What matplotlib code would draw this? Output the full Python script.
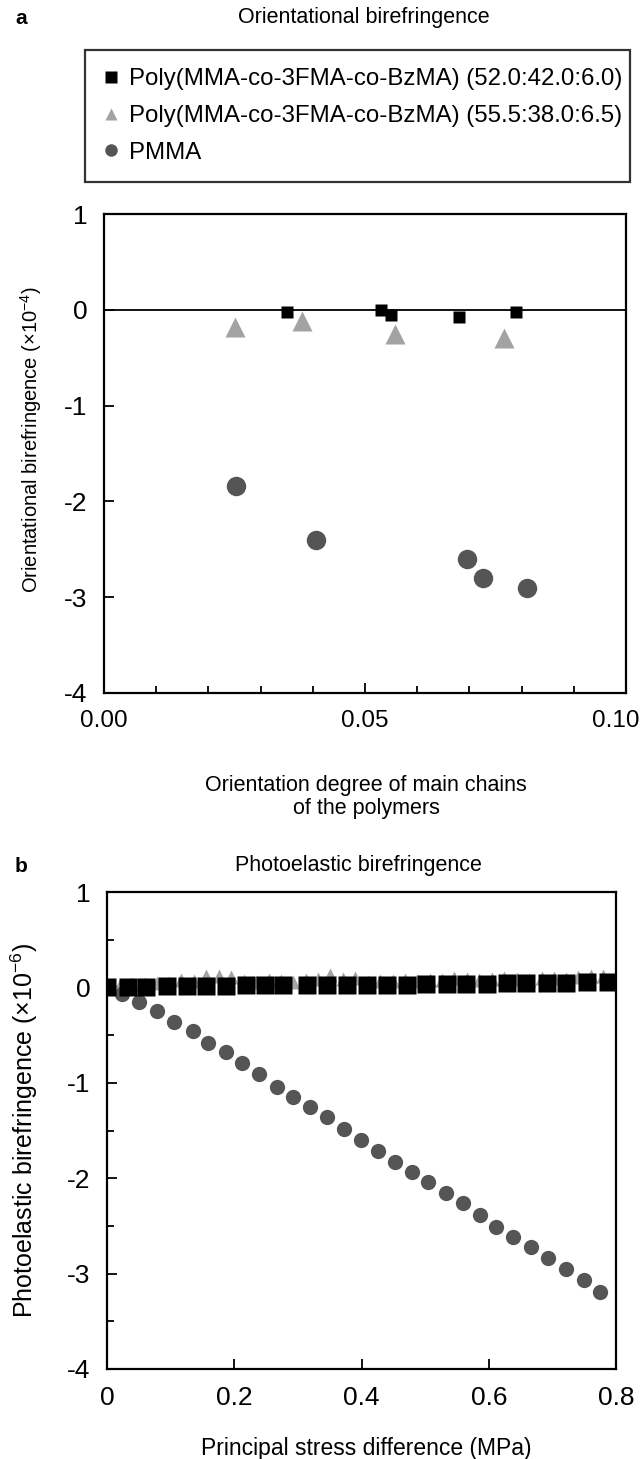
import matplotlib
matplotlib.use("Agg")
import matplotlib.pyplot as plt
from matplotlib.lines import Line2D
from matplotlib.ticker import MultipleLocator
from matplotlib.transforms import ScaledTranslation

plt.rcParams['font.family'] = ['Liberation Sans', 'DejaVu Sans']
plt.rcParams['mathtext.fontset'] = 'custom'
plt.rcParams['mathtext.rm'] = 'Liberation Sans'
plt.rcParams['axes.unicode_minus'] = False

# ---- panel a: orientational birefringence ----
a_sq_x = [0.035, 0.053, 0.055, 0.068, 0.079]
a_sq_y = [-0.02, 0.00, -0.05, -0.07, -0.02]
a_tri_x = [0.025, 0.038, 0.0557, 0.0767]
a_tri_y = [-0.18, -0.12, -0.25, -0.29]
a_pmma_x = [0.0252, 0.0406, 0.0696, 0.0726, 0.0811]
a_pmma_y = [-1.84, -2.40, -2.60, -2.80, -2.90]

# ---- panel b: photoelastic birefringence ----
b_sq_x = [0.000, 0.033, 0.062, 0.095, 0.125, 0.156, 0.187, 0.218, 0.248, 0.277,
          0.314, 0.345, 0.377, 0.408, 0.440, 0.471, 0.502, 0.534, 0.565, 0.597,
          0.628, 0.659, 0.691, 0.722, 0.754, 0.787]
b_sq_y = [0.00, 0.00, 0.00, 0.01, 0.01, 0.01, 0.01, 0.02, 0.02, 0.02,
          0.02, 0.03, 0.03, 0.03, 0.03, 0.03, 0.04, 0.04, 0.04, 0.04,
          0.05, 0.05, 0.05, 0.05, 0.06, 0.06]
b_tri_x = [0.000, 0.020, 0.039, 0.059, 0.078, 0.098, 0.117, 0.137, 0.156, 0.176,
           0.195, 0.215, 0.234, 0.254, 0.273, 0.293, 0.312, 0.332, 0.351, 0.371,
           0.390, 0.410, 0.429, 0.449, 0.468, 0.488, 0.507, 0.527, 0.546, 0.566,
           0.585, 0.605, 0.624, 0.644, 0.663, 0.683, 0.702, 0.722, 0.741, 0.761, 0.780]
b_tri_y = [0.02, 0.03, 0.04, 0.04, 0.05, 0.05, 0.08, 0.07, 0.12, 0.12,
           0.11, 0.07, 0.06, 0.08, 0.07, 0.06, 0.08, 0.09, 0.13, 0.09,
           0.10, 0.06, 0.07, 0.07, 0.08, 0.07, 0.08, 0.08, 0.10, 0.09,
           0.08, 0.09, 0.10, 0.09, 0.08, 0.10, 0.10, 0.09, 0.11, 0.12, 0.12]
b_pmma_x = [0.000, 0.024, 0.051, 0.078, 0.106, 0.135, 0.158, 0.187, 0.212, 0.239,
            0.267, 0.292, 0.319, 0.345, 0.372, 0.399, 0.426, 0.452, 0.479, 0.505,
            0.533, 0.559, 0.586, 0.612, 0.638, 0.666, 0.693, 0.721, 0.750, 0.775]
b_pmma_y = [0.00, -0.07, -0.15, -0.25, -0.36, -0.46, -0.58, -0.68, -0.79, -0.91,
            -1.04, -1.15, -1.25, -1.36, -1.48, -1.60, -1.71, -1.83, -1.94, -2.04,
            -2.16, -2.26, -2.39, -2.51, -2.62, -2.72, -2.84, -2.95, -3.07, -3.19]

labels = ['Poly(MMA-co-3FMA-co-BzMA) (52.0:42.0:6.0)',
          'Poly(MMA-co-3FMA-co-BzMA) (55.5:38.0:6.5)',
          'PMMA']

BLACK = '#000000'
LIGHT = '#a3a3a3'
DARK = '#555555'

W, H = 641, 1459
fig = plt.figure(figsize=(W / 100, H / 100), dpi=100)


def box(l, t, r, b):
    return [l / W, 1 - b / H, (r - l) / W, (b - t) / H]


def style_axes(ax):
    for s in ax.spines.values():
        s.set_linewidth(1.6)
    ax.tick_params(which='both', direction='in', width=1.3, top=False, right=False)
    ax.tick_params(which='major', length=7)
    ax.tick_params(which='minor', length=5)


# panel a
ax1 = fig.add_axes(box(104, 214, 626, 693))
ax1.axhline(0, color='black', lw=1.3, zorder=1)
ax1.plot(a_tri_x, a_tri_y, '^', ms=15, color=LIGHT, mec='none', zorder=2)
ax1.plot(a_pmma_x, a_pmma_y, 'o', ms=14, color=DARK, mec='none', zorder=2)
ax1.plot(a_sq_x, a_sq_y, 's', ms=8.5, color=BLACK, mec='none', zorder=3)
ax1.set_xlim(0, 0.10)
ax1.set_ylim(-4, 1)
ax1.set_xticks([0.0, 0.05, 0.10])
ax1.set_xticklabels(['0.00', '0.05', '0.10'])
ax1.xaxis.set_minor_locator(MultipleLocator(0.01))
ax1.set_yticks([1, 0, -1, -2, -3, -4])
style_axes(ax1)
ax1.tick_params(axis='x', labelsize=17.5, pad=12)
ax1.tick_params(axis='y', labelsize=19, pad=12)
last = ax1.get_xticklabels()[-1]
last.set_transform(last.get_transform() + ScaledTranslation(-10 / 100, 0, fig.dpi_scale_trans))

# panel b
ax2 = fig.add_axes(box(107, 892, 616, 1369))
ax2.plot(b_tri_x, b_tri_y, '^', ms=10, color=LIGHT, mec='none', zorder=2)
ax2.plot(b_pmma_x, b_pmma_y, 'o', ms=11, color=DARK, mec='none', zorder=3)
ax2.plot(b_sq_x, b_sq_y, 's', ms=13, color=BLACK, mec='none', zorder=4)
ax2.set_xlim(0, 0.8)
ax2.set_ylim(-4, 1)
ax2.set_xticks([0, 0.2, 0.4, 0.6, 0.8])
ax2.set_xticklabels(['0', '0.2', '0.4', '0.6', '0.8'])
ax2.set_yticks([1, 0, -1, -2, -3, -4])
ax2.yaxis.set_minor_locator(MultipleLocator(0.5))
style_axes(ax2)
ax2.tick_params(axis='x', labelsize=19, pad=12)
ax2.tick_params(axis='y', labelsize=19, pad=12)

# texts
fig.text(15 / W, 1 - 18 / H, 'a', fontsize=15, fontweight='bold', ha='left', va='center')
fig.text(364 / W, 1 - 18 / H, 'Orientational birefringence', fontsize=15.5, ha='center', va='center')
fig.text(31 / W, 1 - 440 / H, 'Orientational birefringence ($\\times$10$^{-4}$)',
         fontsize=14.5, rotation=90, ha='center', va='center')
fig.text(366 / W, 1 - 797 / H, 'Orientation degree of main chains\nof the polymers',
         fontsize=15.5, ha='center', va='center', linespacing=1.15)

fig.text(15 / W, 1 - 866 / H, 'b', fontsize=15, fontweight='bold', ha='left', va='center')
fig.text(358 / W, 1 - 866 / H, 'Photoelastic birefringence', fontsize=15.5, ha='center', va='center')
fig.text(24 / W, 1 - 1130 / H, 'Photoelastic birefringence ($\\times$10$^{-6}$)',
         fontsize=18, rotation=90, ha='center', va='center')
fig.text(366 / W, 1 - 1448 / H, 'Principal stress difference (MPa)',
         fontsize=16.5, ha='center', va='center')

# legend box for panel a
handles = [Line2D([], [], ls='none', marker='s', ms=8, color=BLACK, mec='none'),
           Line2D([], [], ls='none', marker='^', ms=9, color=LIGHT, mec='none'),
           Line2D([], [], ls='none', marker='o', ms=9, color=DARK, mec='none')]
leg = fig.legend(handles, labels, loc='upper left',
                 bbox_to_anchor=(85 / W, 1 - 180 / H, (630 - 85) / W, 130 / H),
                 mode='expand', fontsize=17.3, frameon=True, fancybox=False,
                 edgecolor='black', borderpad=0.75, labelspacing=0.62,
                 handlelength=0.7, handletextpad=0.4, borderaxespad=0)
leg.get_frame().set_linewidth(1.6)

fig.savefig('out.png', dpi=100)
